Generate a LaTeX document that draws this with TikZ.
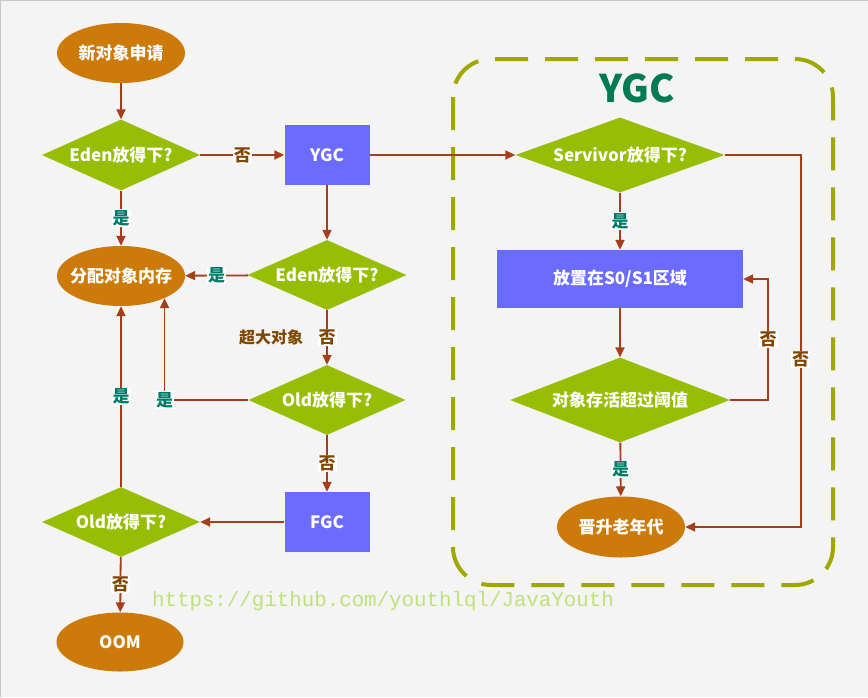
\documentclass[tikz,border=0pt]{standalone}
\usepackage{fontspec}
\setmainfont{Noto Sans CJK SC}
\newfontfamily\urlfont{Liberation Mono}
\usepackage{tikz}
\usetikzlibrary{shapes.geometric, arrows.meta}
\definecolor{gcOrange}{RGB}{204,122,10}
\definecolor{gcGreen}{RGB}{151,189,4}
\definecolor{gcBlue}{RGB}{107,107,255}
\definecolor{gcArrow}{RGB}{166,62,28}
\definecolor{gcYes}{RGB}{0,122,104}
\definecolor{gcNo}{RGB}{128,70,0}
\definecolor{gcFrame}{RGB}{160,168,0}
\definecolor{gcTitle}{RGB}{0,122,80}
\definecolor{gcBack}{RGB}{244,244,244}
\definecolor{gcMark}{RGB}{190,226,122}

\begin{document}
\begin{tikzpicture}[x=1pt, y=-1pt,
  term/.style={ellipse, fill=gcOrange, text=white, inner xsep=-8pt, inner ysep=0pt,
               minimum width=128pt, minimum height=60pt,
               font=\bfseries\fontsize{17}{19}\selectfont},
  decide/.style={diamond, fill=gcGreen, text=white, inner sep=0pt, aspect=2.4,
                 font=\bfseries\fontsize{17}{19}\selectfont},
  proc/.style={rectangle, fill=gcBlue, text=white, minimum width=85pt, minimum height=60pt,
               font=\bfseries\fontsize{17}{19}\selectfont},
  arrow/.style={-{Triangle[length=10pt, width=9pt]}, line width=1.8pt, draw=gcArrow},
  yes/.style={fill=white, text=gcYes, inner sep=1pt, font=\bfseries\fontsize{17}{18}\selectfont},
  no/.style={fill=white, text=gcNo, inner sep=1pt, font=\bfseries\fontsize{17}{18}\selectfont},
]
  \useasboundingbox (0,0) rectangle (868,697);
  \fill[gcBack] (0,0) rectangle (868,697);
  \draw[black!22, line width=2.5pt] (0,697) -- (0,0) -- (868,0);

  % YGC region
  \draw[gcFrame, line width=4pt, dash pattern=on 33pt off 17pt, rounded corners=38pt]
    (453,59) rectangle (833,585);
  \node[text=gcTitle, font=\bfseries\fontsize{38}{40}\selectfont] (ygctitle) at (637,88) {YGC};

  % left part
  \node[term] (start) at (121,53) {新对象申请};
  \node[decide, minimum width=158pt, minimum height=71pt] (eden1) at (121,155) {Eden放得下?};
  \node[proc] (ygc) at (327,155) {YGC};
  \node[term] (alloc) at (121,276) {分配对象内存};
  \node[decide, minimum width=159pt, minimum height=70pt] (eden2) at (327,275) {Eden放得下?};
  \node[decide, minimum width=157pt, minimum height=70pt] (old1) at (327,400) {Old放得下?};
  \node[proc] (fgc) at (327,522) {FGC};
  \node[decide, minimum width=158pt, minimum height=70pt] (old2) at (121,522) {Old放得下?};
  \node[term, minimum width=127pt, minimum height=59pt] (oom) at (120,642) {OOM};

  % right part
  \node[decide, aspect=2.8, minimum width=209pt, minimum height=75pt] (surv) at (620,155) {Servivor放得下?};
  \node[proc, minimum width=246pt, minimum height=58pt] (s0s1) at (620,279) {放置在S0/S1区域};
  \node[decide, aspect=2.6, minimum width=220pt, minimum height=85pt] (age) at (620,400) {对象存活超过阈值};
  \node[term, minimum height=61pt] (old) at (621,527) {晋升老年代};

  \node[font=\urlfont\fontsize{20.8}{22}\selectfont, text=gcMark] (mark) at (383,601)
    {https://github.com/youthlql/JavaYouth};

  % connectors
  \draw[arrow] (start) -- (eden1);
  \draw[arrow] (eden1) -- node[no] {否} (ygc);
  \draw[arrow] (eden1) -- node[yes] {是} (alloc);
  \draw[arrow] (ygc) -- (eden2);
  \draw[arrow] (eden2) -- node[yes] {是} (alloc);
  \draw[arrow] (eden2) -- node[no] (big) {否} (old1);
  \node[text=gcNo, font=\bfseries\fontsize{16}{17}\selectfont, anchor=east] (bigobj)
    at ([xshift=-10pt]big.west) {超大对象};
  \draw[arrow] (old1.west) -| node[yes] {是} (alloc.-27);
  \draw[arrow] (old1) -- node[no] {否} (fgc);
  \draw[arrow] (fgc) -- (old2);
  \draw[arrow] (old2) -- node[yes] {是} (alloc);
  \draw[arrow] (old2) -- node[no] {否} (oom);

  \draw[arrow] (ygc) -- (surv);
  \draw[arrow] (surv) -- node[yes] {是} (s0s1);
  \draw[arrow] (s0s1) -- (age);
  \draw[arrow] (age.east) -- ++(38,0) |- node[no, pos=0.25] {否} (s0s1.east);
  \draw[arrow] (surv.east) -- ++(76,0) |- node[no, pos=0.275] {否} (old.east);
  \draw[arrow] (age) -- node[yes] {是} (old);
\end{tikzpicture}
\end{document}
